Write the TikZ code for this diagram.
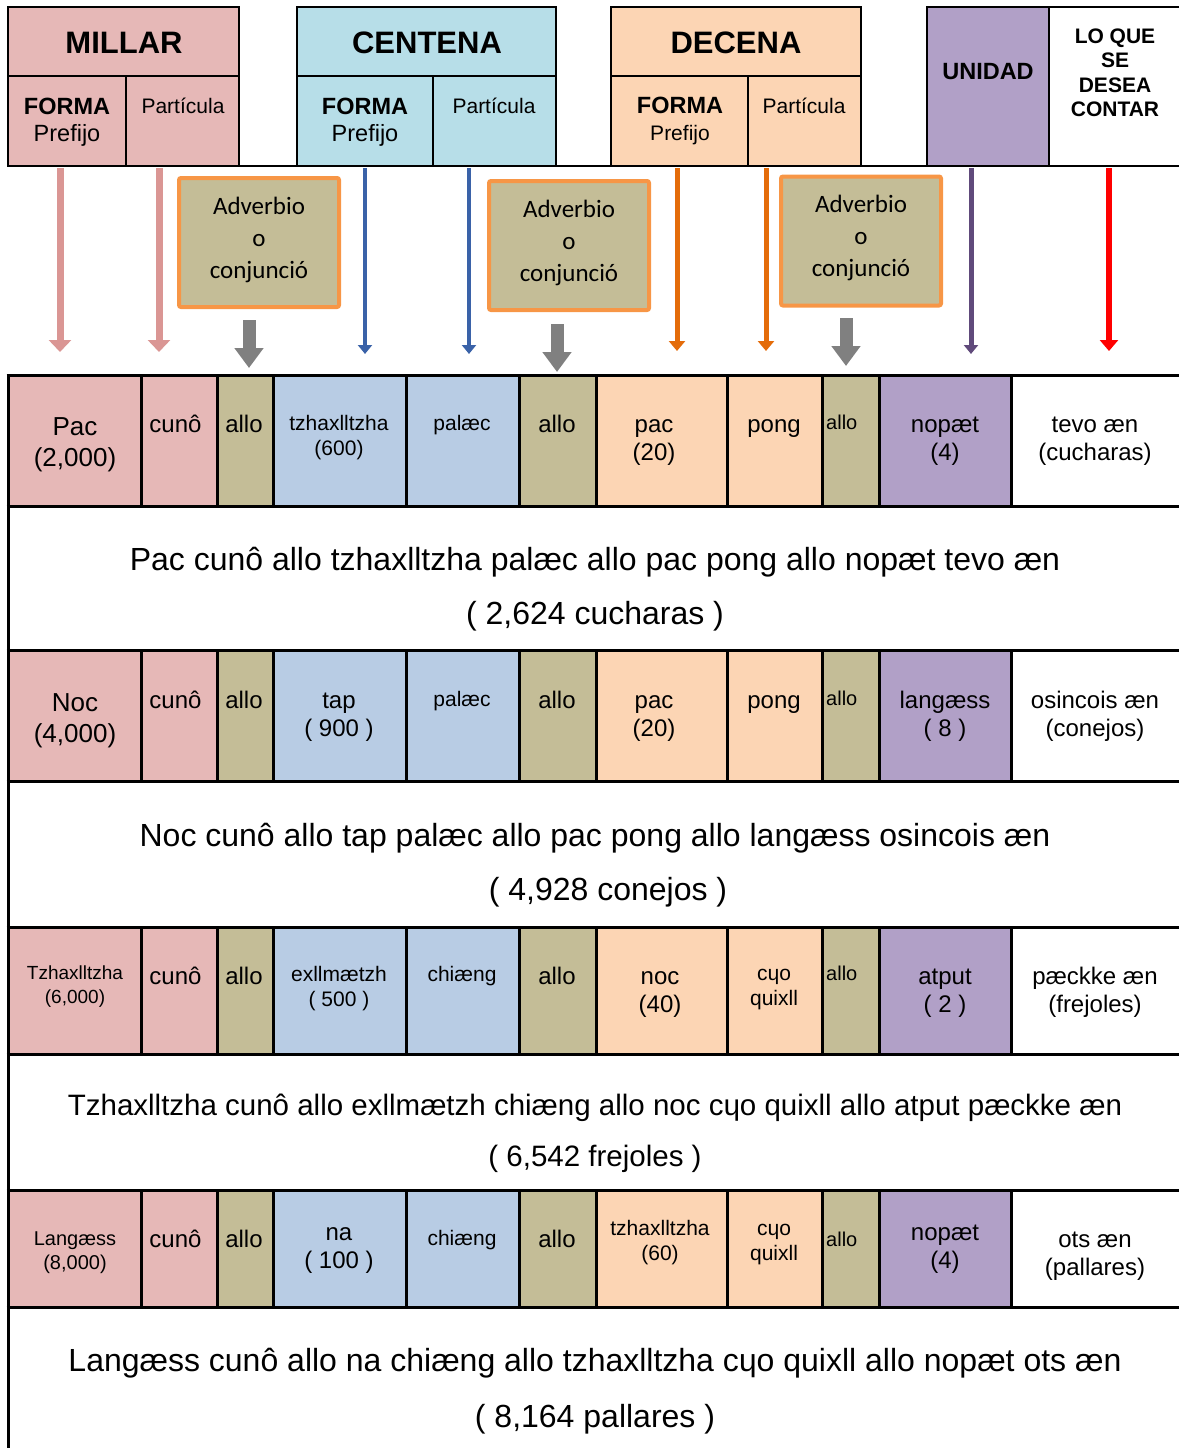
\documentclass[tikz,border=0pt]{standalone}
\usepackage{fontspec}
\setmainfont{Liberation Sans}
\newfontfamily\carlito{Carlito}
\usetikzlibrary{arrows.meta}
\newcommand\fsz[2]{\fontsize{#1}{#2}\selectfont}
\definecolor{pinkC}{HTML}{E6B8B7}
\definecolor{cyanH}{HTML}{B7DEE8}
\definecolor{blueC}{HTML}{B8CCE4}
\definecolor{peach}{HTML}{FCD5B4}
\definecolor{olive}{HTML}{C4BD97}
\definecolor{lilac}{HTML}{B1A0C7}
\definecolor{advedge}{HTML}{F79646}
\definecolor{pinkA}{HTML}{DA9694}
\definecolor{blueA}{HTML}{3A62A8}
\definecolor{orangeA}{HTML}{E46C0A}
\definecolor{purpleA}{HTML}{604A7B}
\definecolor{grayA}{HTML}{808080}
\tikzset{
  hline/.style={line width=2.2pt, black},
  tline/.style={line width=3pt, black},
  lbl/.style={inner sep=0pt, align=center},
  big/.style={lbl, font=\bfseries\fsz{31}{36}},
  t26/.style={lbl, font=\fsz{26}{31}},
  t24/.style={lbl, font=\fsz{24}{28}},
  t21/.style={lbl, font=\fsz{21}{25}},
  t20/.style={lbl, font=\fsz{20}{24}},
  t19/.style={lbl, font=\fsz{19}{24}},
  sent/.style={lbl, font=\fsz{32}{54}},
  advbox/.style={draw=advedge, fill=olive, line width=4pt, rounded corners=2pt,
    minimum width=160pt, minimum height=129pt, inner sep=0pt, align=center,
    font=\carlito\fsz{25}{32}},
  advtext/.style={lbl, font=\carlito\fsz{25}{32}},
  parrow/.style={draw=pinkA, line width=7pt, -{Triangle[width=22pt,length=12pt]}},
  barrow/.style={draw=blueA, line width=4.5pt, -{Triangle[width=14pt,length=9pt]}},
  oarrow/.style={draw=orangeA, line width=5pt, -{Triangle[width=16pt,length=10pt]}},
  uarrow/.style={draw=purpleA, line width=5pt, -{Triangle[width=14pt,length=9pt]}},
  rarrow/.style={draw=red, line width=6pt, -{Triangle[width=18pt,length=11pt]}},
  garrow/.style={draw=grayA, line width=13pt, -{Triangle[width=28pt,length=20pt]}},
}
\begin{document}
\begin{tikzpicture}[x=1pt,y=-1pt]
\useasboundingbox (0,0) rectangle (1179,1448);

% ---------- header ----------
\fill[pinkC] (8,7) rectangle (239,166);
\fill[cyanH] (297,7) rectangle (556,166);
\fill[peach] (611,7) rectangle (861,166);
\fill[lilac] (927,7) rectangle (1049,166);
\draw[hline] (8,7) rectangle (239,166) (8,76) -- (239,76) (126,76) -- (126,166);
\draw[hline] (297,7) rectangle (556,166) (297,76) -- (556,76) (433,76) -- (433,166);
\draw[hline] (611,7) rectangle (861,166) (611,76) -- (861,76) (748,76) -- (748,166);
\draw[hline] (1179,7) -- (927,7) -- (927,166) (1049,7) -- (1049,166);
\draw[hline] (8,166) -- (1179,166);

\node[big] (hMil) at (124,43) {MILLAR};
\node[lbl, font=\fsz{23.5}{27}] (hMilF) at (67,122) {{\bfseries FORMA}\\Prefijo};
\node[t21] (hMilP) at (183,106) {Partícula};
\node[big] (hCen) at (427,43) {CENTENA};
\node[lbl, font=\fsz{23.5}{27}] (hCenF) at (365,122) {{\bfseries FORMA}\\Prefijo};
\node[t21] (hCenP) at (494,106) {Partícula};
\node[big] (hDec) at (736,43) {DECENA};
\node[lbl, font=\fsz{23.5}{27}] (hDecF) at (680,121) {{\bfseries FORMA}\\{\fsz{21}{27}Prefijo}};
\node[t21] (hDecP) at (804,106) {Partícula};
\node[lbl, font=\bfseries\fsz{23.5}{28}] (hUni) at (988,72) {UNIDAD};
\node[lbl, font=\bfseries\fsz{21}{24.5}] (hCosa) at (1115,73) {LO QUE\\SE\\DESEA\\CONTAR};

% ---------- arrows from the header to the table ----------
\foreach \n/\x/\y/\sty in {p1/60/352/parrow, p2/159/352/parrow, b1/365/354/barrow,
    b2/469/354/barrow, o1/677/351/oarrow, o2/766/351/oarrow, u1/971/354/uarrow,
    r1/1109/351/rarrow}{
  \coordinate (s\n) at (\x,168);
  \coordinate (e\n) at (\x,\y);
  \draw[\sty] (s\n) -- (e\n);
}

% ---------- adverb / conjunction boxes ----------
\node[advbox] (adv1) at (259,242.5) {};
\node[advbox] (adv2) at (569,245.5) {};
\node[advbox] (adv3) at (861,241) {};
\node[advtext] (adv1t) at (259,240) {Adverbio\\o\\conjunció};
\node[advtext] (adv2t) at (569,243) {Adverbio\\o\\conjunció};
\node[advtext] (adv3t) at (861,238) {Adverbio\\o\\conjunció};
\coordinate (g1s) at (249,320); \coordinate (g1e) at (249,368);
\coordinate (g2s) at (557,324); \coordinate (g2e) at (557,372);
\coordinate (g3s) at (846,318); \coordinate (g3e) at (846,366);
\draw[garrow] (g1s) -- (g1e);
\draw[garrow] (g2s) -- (g2e);
\draw[garrow] (g3s) -- (g3e);

% ---------- table ----------
\foreach \t/\b in {375/506, 650/781, 927/1054, 1190/1307}{
  \foreach \xa/\xb/\c in {8/141/pinkC, 141/217/pinkC, 217/273/olive, 273/406/blueC,
      406/519/blueC, 519/596/olive, 596/727/peach, 727/822/peach, 822/879/olive,
      879/1011/lilac, 1011/1179/white}{
    \fill[\c] (\xa,\t) rectangle (\xb,\b);
    \draw[tline] (\xa,\t) -- (\xa,\b);
  }
  \draw[tline] (1011,\t) -- (1011,\b);
}
\draw[tline] (8,375) -- (8,1448);
\foreach \y in {375,506,650,781,927,1054,1190,1307}{
  \draw[tline] (6.5,\y) -- (1179,\y);
}

% row 1
\node[t26] (r1c1) at (75,444.5) {Pac\\(2,000)};
\node[t24] (r1c2) at (175.5,424) {cunô};
\node[t24] (r1c3) at (244,424) {allo};
\node[t21] (r1c4) at (339,438) {tzhaxlltzha\\(600)};
\node[t21] (r1c5) at (462,425) {palæc};
\node[t24] (r1c6) at (557,424) {allo};
\node[t24] (r1c7) at (654,443) {pac\\(20)};
\node[t24] (r1c8) at (774,429) {pong};
\node[t20, anchor=west] (r1c9) at (826,422) {allo};
\node[t24] (r1c10) at (945,441) {nopæt\\(4)};
\node[t24] (r1c11) at (1095,441) {tevo æn\\(cucharas)};
\node[sent] (s1) at (595,589) {Pac cunô allo tzhaxlltzha palæc allo pac pong allo nopæt tevo æn\\( 2,624 cucharas )};

% row 2
\node[t26] (r2c1) at (75,720.5) {Noc\\(4,000)};
\node[t24] (r2c2) at (175.5,700) {cunô};
\node[t24] (r2c3) at (244,700) {allo};
\node[t24] (r2c4) at (339,717) {tap\\( 900 )};
\node[t21] (r2c5) at (462,701) {palæc};
\node[t24] (r2c6) at (557,700) {allo};
\node[t24] (r2c7) at (654,719) {pac\\(20)};
\node[t24] (r2c8) at (774,705) {pong};
\node[t20, anchor=west] (r2c9) at (826,698) {allo};
\node[t24] (r2c10) at (945,716) {langæss\\( 8 )};
\node[t24] (r2c11) at (1095,716) {osincois æn\\(conejos)};
\node[sent] (s2) at (595,865) {Noc cunô allo tap palæc allo pac pong allo langæss osincois æn\\\hspace*{26pt}( 4,928 conejos )};

% row 3
\node[t19] (r3c1) at (75,987) {Tzhaxlltzha\\(6,000)};
\node[t24] (r3c2) at (175.5,976) {cunô};
\node[t24] (r3c3) at (244,976) {allo};
\node[t21] (r3c4) at (339,988.5) {exllmætzh\\( 500 )};
\node[t21] (r3c5) at (462,976.5) {chiæng};
\node[t24] (r3c6) at (557,976) {allo};
\node[t24] (r3c7) at (660,995) {noc\\(40)};
\node[t21] (r3c8) at (774,990) {cɥo\\quixll};
\node[t20, anchor=west] (r3c9) at (826,973) {allo};
\node[t24] (r3c10) at (945,993) {atput\\( 2 )};
\node[t24] (r3c11) at (1095,992) {pæckke æn\\(frejoles)};
\node[sent, font=\fsz{29.5}{51}] (s3) at (595,1133) {Tzhaxlltzha cunô allo exllmætzh chiæng allo noc cɥo quixll allo atput pæckke æn\\( 6,542 frejoles )};

% row 4
\node[t20] (r4c1) at (75,1252.5) {Langæss\\(8,000)};
\node[t24] (r4c2) at (175.5,1239) {cunô};
\node[t24] (r4c3) at (244,1239) {allo};
\node[t24] (r4c4) at (339,1251) {na\\( 100 )};
\node[t21] (r4c5) at (462,1240) {chiæng};
\node[t24] (r4c6) at (557,1239) {allo};
\node[t21] (r4c7) at (660,1242.5) {tzhaxlltzha\\(60)};
\node[t21] (r4c8) at (774,1245) {cɥo\\quixll};
\node[t20, anchor=west] (r4c9) at (826,1239) {allo};
\node[t24] (r4c10) at (945,1249) {nopæt\\(4)};
\node[t24] (r4c11) at (1095,1256) {ots æn\\(pallares)};
\node[sent, font=\fsz{32}{56}] (s4) at (595,1391) {Langæss cunô allo na chiæng allo tzhaxlltzha cɥo quixll allo nopæt ots æn\\( 8,164 pallares )};
\end{tikzpicture}
\end{document}
